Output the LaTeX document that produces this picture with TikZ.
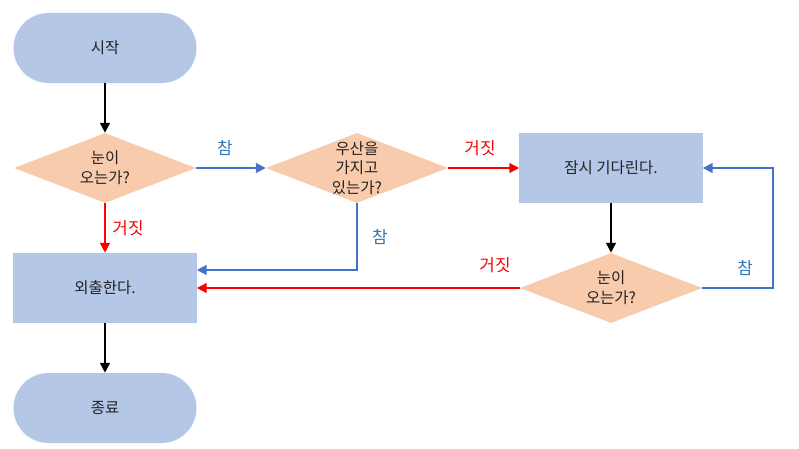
\documentclass[tikz,border=0pt]{standalone}
\usepackage{fontspec}
\setmainfont{Noto Sans CJK KR}
\usepackage{xcolor}
\definecolor{ink}{HTML}{222222}
\definecolor{boxblue}{HTML}{B4C7E7}
\definecolor{peach}{HTML}{F8CBAD}
\definecolor{lineblue}{HTML}{4472C4}
\definecolor{textblue}{HTML}{2E75B6}
\definecolor{red}{HTML}{FF0000}
\usepackage{tikz}
\usetikzlibrary{shapes.geometric,arrows.meta}

\begin{document}
\begin{tikzpicture}[
  x=0.025cm, y=-0.025cm,
  font=\fontsize{11}{14}\selectfont,
  term/.style={rectangle, rounded corners=0.875cm, fill=boxblue, text=ink, align=center,
               minimum width=4.575cm, minimum height=1.75cm},
  proc/.style={rectangle, fill=boxblue, text=ink, align=center,
               minimum width=4.575cm, minimum height=1.75cm},
  decide/.style={diamond, fill=peach, text=ink, align=center, inner sep=0pt, aspect=2.6,
                 minimum width=4.55cm, minimum height=1.75cm},
  flow/.style={-{Triangle[width=7pt,length=7pt]}, line width=1.1pt},
  yes/.style={flow, lineblue},
  no/.style={flow, red},
  yestxt/.style={text=textblue, font=\fontsize{12}{14}\selectfont},
  notxt/.style={text=red, font=\fontsize{12}{14}\selectfont}
]
  \useasboundingbox (0,0) rectangle (799,448);

  \node[term]   (start)  at (105,48)  {시작};
  \node[decide] (snow)   at (105,168) {눈이\\오는가?};
  \node[decide, inner sep=-1.8pt] (umb) at (357,168)
        {\fontsize{11}{12.5}\selectfont 우산을\\가지고\\있는가?};
  \node[proc]   (wait)   at (611,168) {잠시 기다린다.};
  \node[proc]   (goout)  at (105,288) {외출한다.};
  \node[decide] (snow2)  at (611,288) {눈이\\오는가?};
  \node[term]   (finish) at (105,408) {종료};

  \coordinate (umbturn) at (357,270);
  \coordinate (loopr)   at (773,288);
  \coordinate (loopu)   at (773,168);

  \draw[flow] (start.south) -- (snow.north);
  \draw[yes] (snow.east) -- (umb.west);
  \draw[no]  (snow.south) -- (goout.north);
  \draw[no]  (umb.east) -- (wait.west);
  \draw[yes] (umb.south) -- (umbturn) -- (goout.east |- umbturn);
  \draw[flow] (wait.south) -- (snow2.north);
  \draw[no]  (snow2.west) -- (goout.east |- snow2.west);
  \draw[yes] (snow2.east) -- (loopr) -- (loopu) -- (wait.east);
  \draw[flow] (goout.south) -- (finish.north);

  \node[yestxt] (l1) at (225,148) {참};
  \node[notxt]  (l2) at (128,228) {거짓};
  \node[notxt]  (l3) at (480,148) {거짓};
  \node[yestxt] (l4) at (380,237) {참};
  \node[notxt]  (l5) at (495,265) {거짓};
  \node[yestxt] (l6) at (745,268) {참};
\end{tikzpicture}
\end{document}
